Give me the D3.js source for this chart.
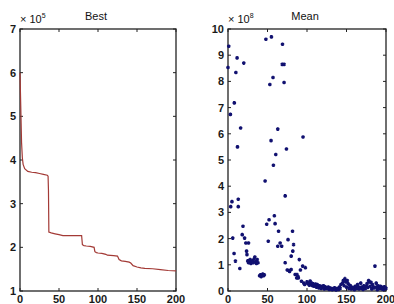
<!DOCTYPE html>
<html>
<head>
<meta charset="utf-8">
<script src="https://cdn.jsdelivr.net/npm/d3@7"></script>
<style>
  html, body { margin: 0; padding: 0; background: #fff; }
  svg { display: block; font-family: "Liberation Sans", Arial, sans-serif; }
  .tick-label { font-size: 11px; font-weight: bold; fill: #1a1a1a; }
  .title { font-size: 11px; fill: #111; }
</style>
</head>
<body>
<div id="chart"></div>
<script>
// Best-of-generation objective (x 10^5)
const bestGen = [0, 1, 2, 3, 4, 6, 10, 15, 20, 25, 30, 35, 36, 36.5, 37, 40, 45, 50, 55, 60, 70, 79,
  80, 82, 85, 90, 95, 96, 98, 100, 105, 110, 112, 120, 125, 127, 130, 135, 140, 142, 145, 150,
  155, 160, 170, 180, 190, 200];
const bestVal = [6.0, 5.2, 4.4, 4.05, 3.9, 3.8, 3.74, 3.72, 3.71, 3.69, 3.67, 3.65, 3.63, 3.3, 2.35,
  2.33, 2.31, 2.29, 2.27, 2.27, 2.27, 2.27, 2.06, 2.04, 2.03, 2.02, 2.0, 1.9, 1.88, 1.87, 1.86,
  1.84, 1.82, 1.81, 1.8, 1.72, 1.69, 1.68, 1.66, 1.64, 1.58, 1.55, 1.53, 1.52, 1.51, 1.49, 1.47, 1.46];

// Mean-of-generation objective (x 10^8), scatter
const meanGen = [
  1, 0, 11.5, 20, 10, 8, 3, 16, 12, 48, 55, 69, 68.6, 71, 57, 53, 71, 63, 54.5, 74, 60.5, 95,
  3.4, 5, 13, 13, 6, 7.7, 9.4, 15, 19, 18, 21, 22.6, 26, 23.5, 24,
  25, 26, 27, 28, 29, 30, 31, 32, 33, 34, 35, 36, 37, 38,
  40, 41, 42, 43, 44, 45, 46,
  47, 49, 52, 51, 58.7, 59.6, 57.5, 64, 63, 66, 68, 72.4, 72.4, 76, 75, 77, 78, 80, 81.7, 83, 82, 80, 85, 88.6, 87,
  90.3, 94.5, 91.7, 98, 87.3, 89, 93, 96, 97,
  100, 101, 102, 103, 104, 105, 106, 107, 108, 109, 110, 111, 112, 113, 114, 115, 116, 117, 118, 119, 120, 121, 122, 123,
  124, 125, 126, 127, 128, 129, 130, 131, 132, 133, 134, 135, 136, 137, 138, 139, 140, 141, 142, 143, 145, 146, 147, 148, 149, 150, 151,
  152, 153, 154, 155, 156, 157, 158, 159, 160, 161, 162, 163, 164, 165, 166, 167, 168, 169, 170, 171, 172, 173, 174, 175, 176, 177, 178, 179, 180, 181,
  182, 183, 184, 185, 186, 187.6, 188, 189, 190, 191, 192, 193, 194, 195, 196, 197, 198, 199, 200];
const meanVal = [
  9.34, 8.53, 8.9, 8.7, 8.34, 7.18, 6.74, 6.22, 5.5, 9.61, 9.7, 9.42, 8.65, 8.65, 8.15, 7.88, 7.96, 6.18, 5.74, 5.42, 5.21, 5.88,
  3.22, 3.41, 3.5, 3.22, 2.02, 1.43, 1.14, 0.86, 2.47, 2.15, 2.02, 1.83, 1.83, 1.52, 1.39,
  1.15, 1.08, 1.12, 1.2, 1.05, 1.1, 1.15, 1.08, 1.22, 1.3, 1.12, 1.05, 1.2, 1.08,
  0.58, 0.62, 0.55, 0.6, 0.65, 0.58, 0.62,
  4.2, 2.55, 2.72, 1.9, 2.87, 2.57, 4.8, 2.28, 1.71, 1.83, 1.71, 3.63, 1.08, 1.96, 0.8, 0.78, 0.75, 0.82, 2.28, 1.77, 1.52, 1.33, 0.63, 0.55, 0.5,
  1.2, 0.95, 0.8, 0.89, 0.63, 0.5, 0.37, 0.3, 0.25,
  0.35, 0.28, 0.3, 0.22, 0.38, 0.25, 0.3, 0.2, 0.27, 0.18, 0.22, 0.26, 0.15, 0.25, 0.19, 0.12, 0.2, 0.16, 0.1, 0.18, 0.14, 0.2, 0.08, 0.16,
  0.12, 0.1, 0.12, 0.15, 0.06, 0.11, 0.1, 0.07, 0.05, 0.09, 0.08, 0.12, 0.06, 0.04, 0.09, 0.07, 0.06, 0.15, 0.1, 0.25, 0.3, 0.4, 0.2, 0.47, 0.35, 0.15, 0.4,
  0.28, 0.1, 0.22, 0.2, 0.08, 0.14, 0.12, 0.1, 0.05, 0.18, 0.12, 0.1, 0.25, 0.16, 0.08, 0.12, 0.3, 0.15, 0.1, 0.06, 0.2, 0.13, 0.1, 0.18, 0.28, 0.14, 0.4, 0.35, 0.18, 0.33,
  0.08, 0.25, 0.16, 0.12, 0.95, 0.3, 0.15, 0.05, 0.2, 0.14, 0.1, 0.18, 0.12, 0.08, 0.14, 0.06, 0.16, 0.12, 0.1];

const xTicks = [0, 50, 100, 150, 200];
const bestTicks = [1, 2, 3, 4, 5, 6, 7];
const meanTicks = [0, 1, 2, 3, 4, 5, 6, 7, 8, 9, 10];

const W = 394, H = 304;
const plotTop = 29, plotBottom = 291;
const tickLen = 3;

const svg = d3.select('#chart').append('svg').attr('width', W).attr('height', H);

// draws a MATLAB-like boxed axes and returns the scales
function drawAxes({ x0, x1, yDomain, yTicks, title, exponent }) {
  const x = d3.scaleLinear().domain([0, 200]).range([x0, x1]);
  const y = d3.scaleLinear().domain(yDomain).range([plotBottom, plotTop]);
  const g = svg.append('g');

  g.append('rect')
    .attr('x', x0).attr('y', plotTop)
    .attr('width', x1 - x0).attr('height', plotBottom - plotTop)
    .attr('fill', 'none').attr('stroke', '#222').attr('stroke-width', 1.3);

  // ticks inside on all four sides
  xTicks.forEach((t) => {
    g.append('line').attr('x1', x(t)).attr('x2', x(t)).attr('y1', plotBottom).attr('y2', plotBottom - tickLen)
      .attr('stroke', '#222');
    g.append('line').attr('x1', x(t)).attr('x2', x(t)).attr('y1', plotTop).attr('y2', plotTop + tickLen)
      .attr('stroke', '#222');
    g.append('text').attr('class', 'tick-label')
      .attr('x', x(t)).attr('y', 303).attr('text-anchor', 'middle').text(t);
  });
  yTicks.forEach((t) => {
    g.append('line').attr('x1', x0).attr('x2', x0 + tickLen).attr('y1', y(t)).attr('y2', y(t))
      .attr('stroke', '#222');
    g.append('line').attr('x1', x1).attr('x2', x1 - tickLen).attr('y1', y(t)).attr('y2', y(t))
      .attr('stroke', '#222');
    g.append('text').attr('class', 'tick-label')
      .attr('x', x0 - 4).attr('y', y(t)).attr('dy', '0.36em').attr('text-anchor', 'end').text(t);
  });

  g.append('text').attr('class', 'title')
    .attr('x', (x0 + x1) / 2 - 2).attr('y', 20).attr('text-anchor', 'middle').text(title);

  const exp = g.append('text').attr('class', 'title').attr('x', x0).attr('y', 23);
  exp.append('tspan').text('\u00d7 10');
  exp.append('tspan').attr('dy', -5).style('font-size', '7px').text(exponent);

  return { x, y, g };
}

const best = drawAxes({ x0: 20, x1: 176, yDomain: [1, 7], yTicks: bestTicks, title: 'Best', exponent: '5' });
const bestLine = d3.line()
  .x((d) => best.x(d[0]))
  .y((d) => best.y(d[1]));
best.g.append('path')
  .datum(bestGen.map((g, i) => [g, bestVal[i]]))
  .attr('d', bestLine)
  .attr('fill', 'none')
  .attr('stroke', '#a33a36')
  .attr('stroke-width', 1.2);

const mean = drawAxes({ x0: 228, x1: 386, yDomain: [0, 10], yTicks: meanTicks, title: 'Mean', exponent: '8' });
const star = d3.symbol().type(d3.symbolAsterisk).size(9);
mean.g.append('g')
  .selectAll('path')
  .data(meanGen.map((g, i) => [g, meanVal[i]]))
  .join('path')
  .attr('transform', (d) => `translate(${mean.x(d[0])},${mean.y(d[1])})`)
  .attr('d', star)
  .attr('fill', 'none')
  .attr('stroke', '#101070')
  .attr('stroke-width', 1.5);
</script>
</body>
</html>
